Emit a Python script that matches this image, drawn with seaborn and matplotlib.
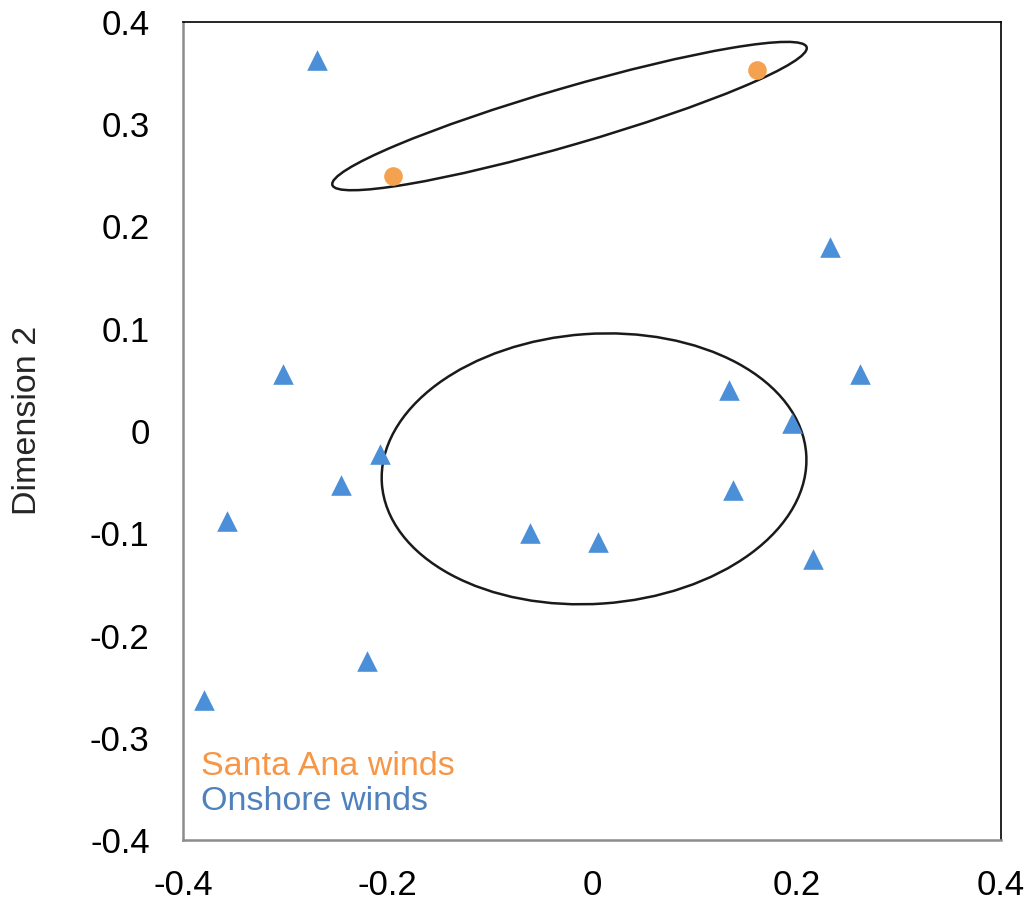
import matplotlib
matplotlib.use("Agg")
import matplotlib.pyplot as plt
from matplotlib.patches import Ellipse
import seaborn as sns
import pandas as pd

# MDS coordinates of the sampling days
onshore_x = [-0.269, 0.233, -0.302, 0.262, 0.134, 0.196, -0.207, -0.245,
             0.138, -0.357, -0.061, 0.006, 0.216, -0.220, -0.379]
onshore_y = [0.363, 0.180, 0.056, 0.056, 0.040, 0.008, -0.022, -0.053,
             -0.058, -0.088, -0.100, -0.109, -0.125, -0.225, -0.263]
santa_ana_x = [-0.195, 0.161]
santa_ana_y = [0.249, 0.353]

groups = ["Santa Ana winds", "Onshore winds"]
group_colors = ["#F5A250", "#4A8FD8"]
label_colors = ["#F79646", "#4F81BD"]

x_ticks = [-0.4, -0.2, 0, 0.2, 0.4]
y_ticks = [0.4, 0.3, 0.2, 0.1, 0, -0.1, -0.2, -0.3, -0.4]

# grouping ellipses: (center x, center y, width, height, angle)
ellipses = [(-0.022, 0.308, 0.483, 0.056, 16.2),
            (0.002, -0.037, 0.416, 0.264, 4.0)]

df = pd.DataFrame({
    "x": santa_ana_x + onshore_x,
    "y": santa_ana_y + onshore_y,
    "group": [groups[0]] * len(santa_ana_x) + [groups[1]] * len(onshore_x),
})

sns.set_style("white")
plt.rcParams["font.family"] = ["Liberation Sans", "DejaVu Sans"]

fig = plt.figure(figsize=(10.31, 9.05), dpi=100)
ax = fig.add_axes([0.1775, 0.0718, 0.7934, 0.9039])

sns.scatterplot(data=df[df.group == groups[0]], x="x", y="y", ax=ax,
                color=group_colors[0], marker="o", s=180, linewidth=0,
                legend=False, zorder=3)
sns.scatterplot(data=df[df.group == groups[1]], x="x", y="y", ax=ax,
                color=group_colors[1], marker="^", s=220, linewidth=0,
                legend=False, zorder=3)

for cx, cy, w, h, ang in ellipses:
    ax.add_patch(Ellipse((cx, cy), w, h, angle=ang, fill=False,
                         edgecolor="#1a1a1a", linewidth=1.8, zorder=2))

ax.set_xlim(-0.4, 0.4)
ax.set_ylim(-0.4, 0.4)
ax.set_xticks(x_ticks)
ax.set_yticks(y_ticks)


def fmt(v):
    return f"{v:g}"


ax.set_xticklabels([fmt(v) for v in x_ticks])
ax.set_yticklabels([fmt(v) for v in y_ticks])
ax.tick_params(axis="both", direction="out", length=7, width=1.5,
               color="#8c8c8c", labelsize=25, labelcolor="black")
ax.tick_params(axis="y", pad=17)
ax.tick_params(axis="x", pad=14)

for side in ["left", "bottom"]:
    ax.spines[side].set_color("#8c8c8c")
    ax.spines[side].set_linewidth(1.8)
for side in ["top", "right"]:
    ax.spines[side].set_color("black")
    ax.spines[side].set_linewidth(1.2)

ax.set_xlabel("")
ax.set_ylabel("Dimension 2", fontsize=24.5)
ax.yaxis.set_label_coords(-0.171, 0.513)

ax.text(0.022, 0.09, groups[0], transform=ax.transAxes, fontsize=24.5,
        color=label_colors[0], va="center")
ax.text(0.022, 0.047, groups[1], transform=ax.transAxes, fontsize=24.5,
        color=label_colors[1], va="center")

fig.savefig("out.png", dpi=100)
